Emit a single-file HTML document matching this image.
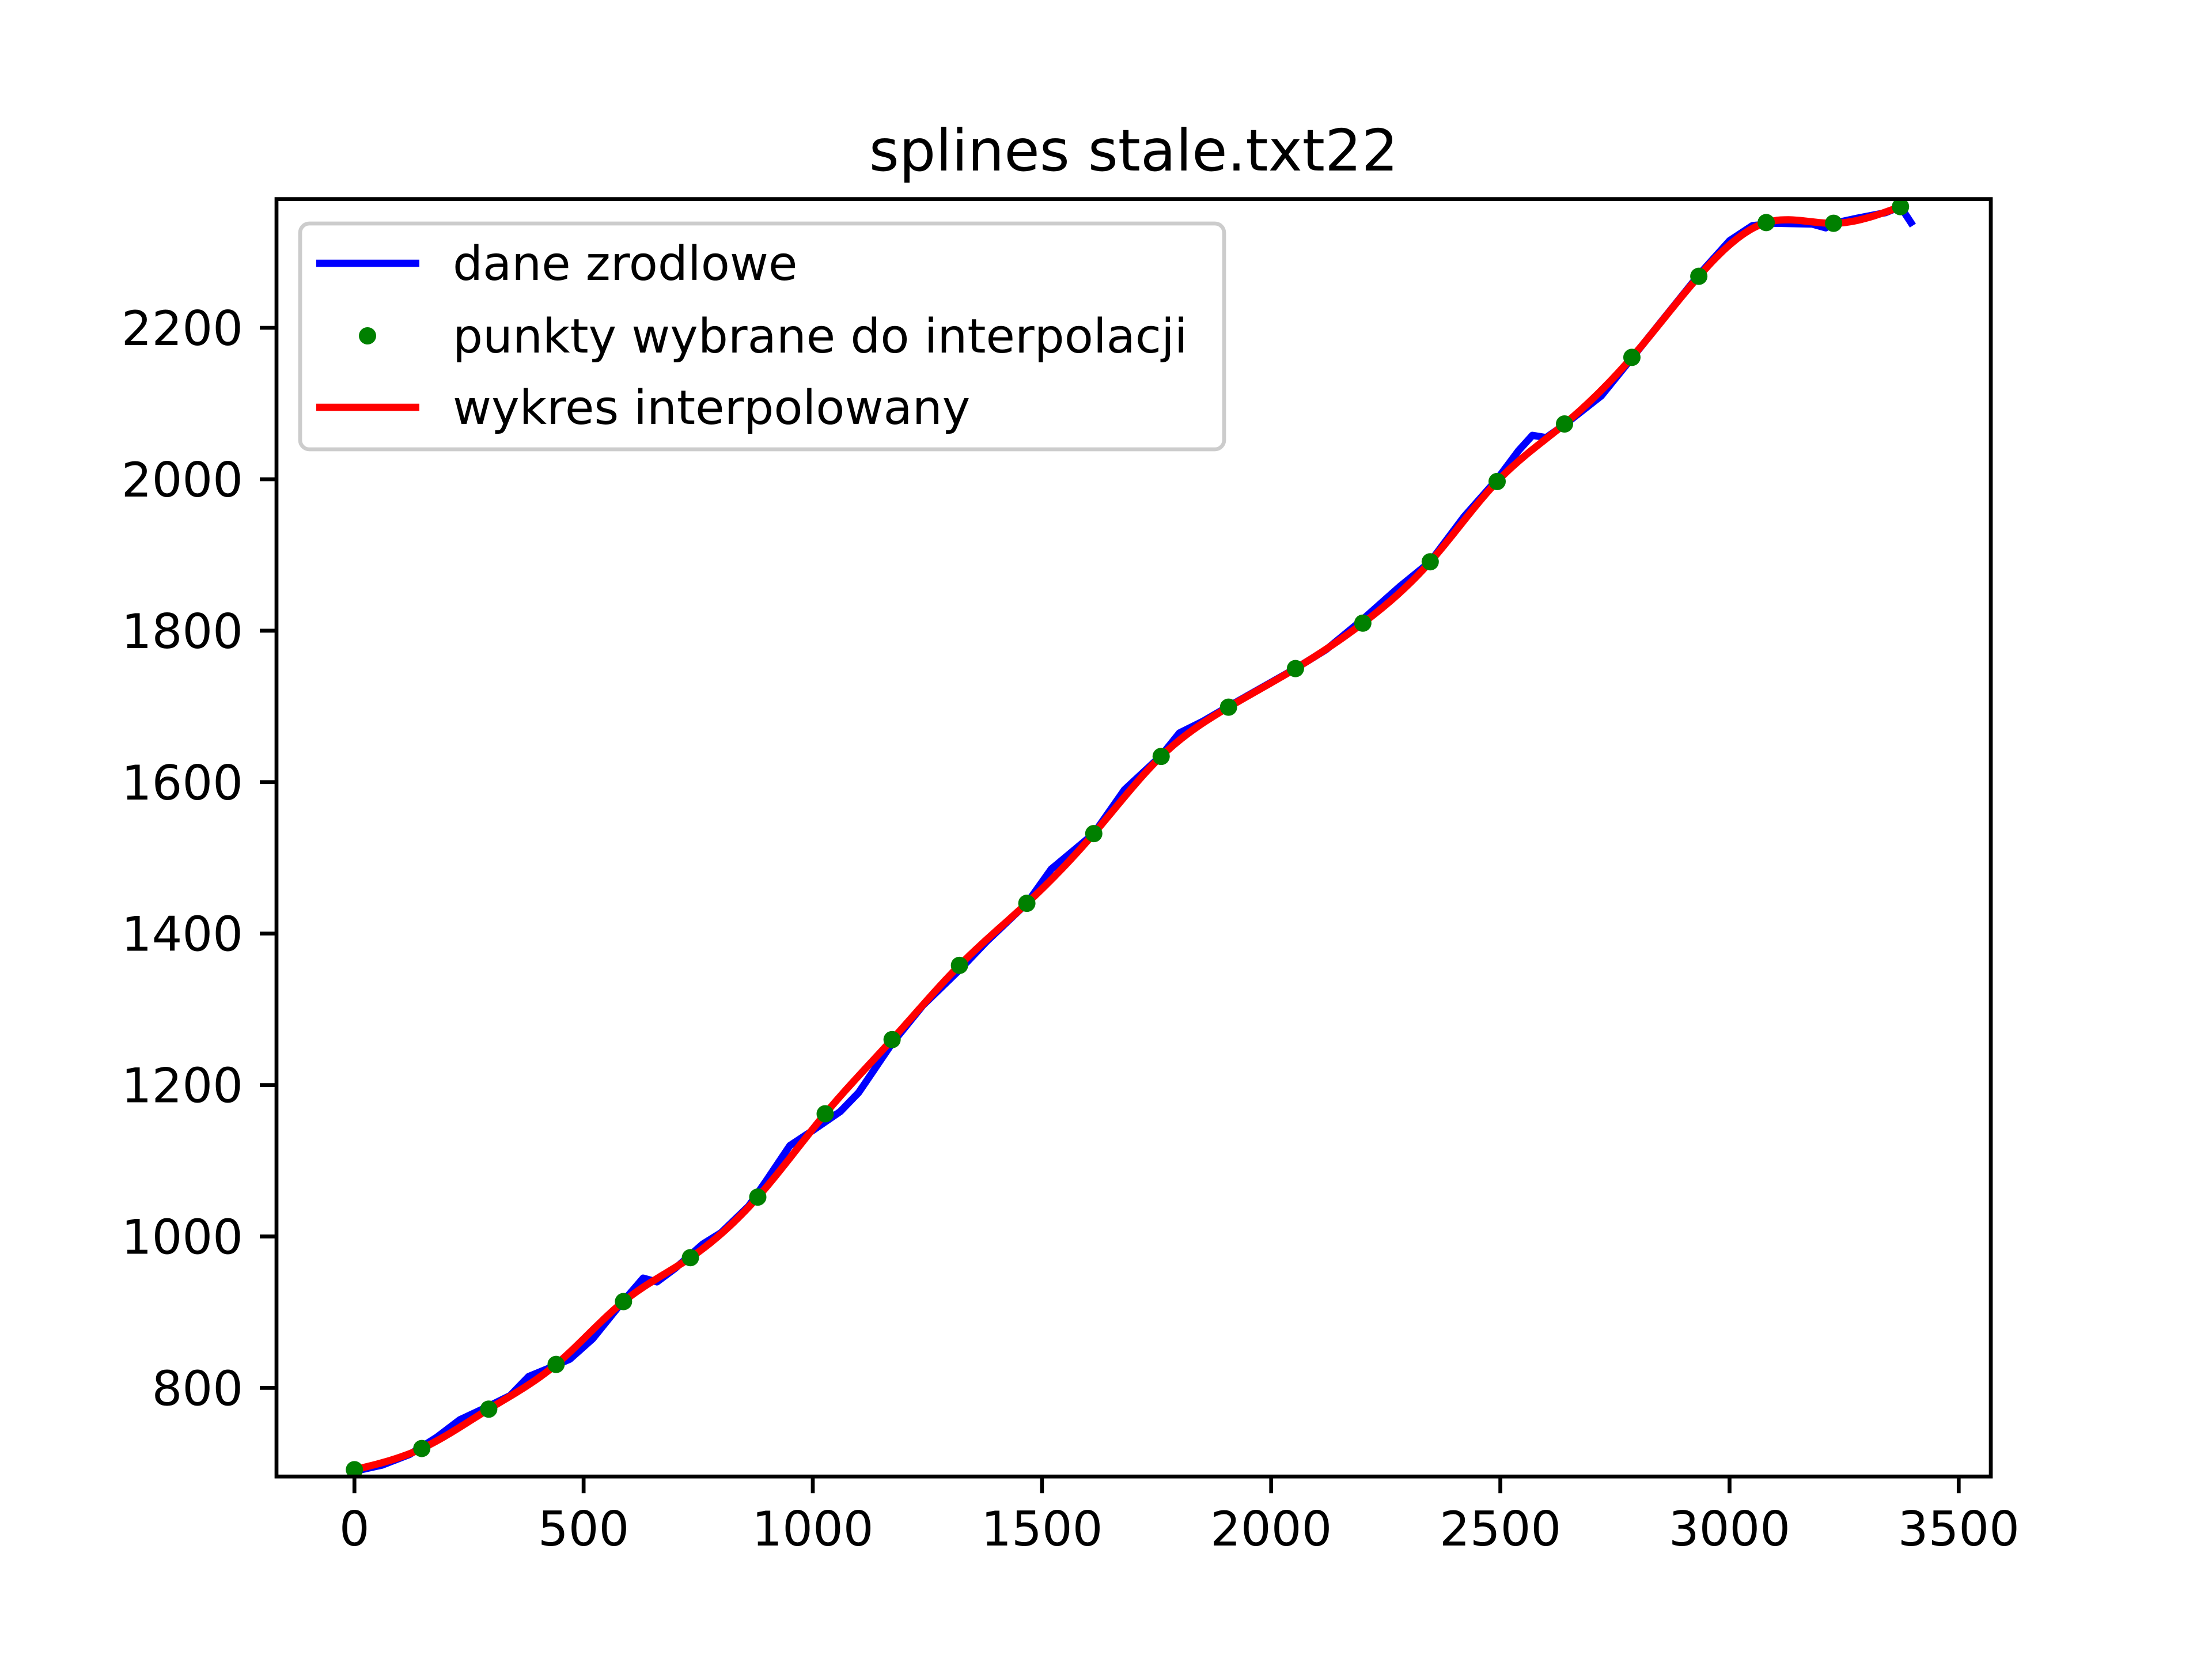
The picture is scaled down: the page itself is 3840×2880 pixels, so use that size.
<!DOCTYPE html>
<html><head><meta charset="utf-8"><style>
html,body{margin:0;padding:0;background:#fff}
svg{display:block}
text{font-family:"DejaVu Sans","Liberation Sans",sans-serif;fill:#000}
</style></head><body>
<svg id="chart" width="3840" height="2880" viewBox="0 0 3840 2880" xmlns="http://www.w3.org/2000/svg">
<rect width="3840" height="2880" fill="#fff"/>
<text x="1968" y="296" font-size="100" text-anchor="middle">splines stale.txt22</text>
<g id="plot"></g>
<g id="axes"></g>
<g>
<rect x="521" y="388" width="1604" height="392" rx="16" fill="#fff" fill-opacity="0.8" stroke="#cccccc" stroke-width="6.7"/>
<line x1="549" y1="457" x2="728" y2="457" stroke="#0000ff" stroke-width="12.5"/>
<text x="786" y="486" font-size="82">dane zrodlowe</text>
<circle cx="638" cy="583" r="15" fill="#008000"/>
<text x="786" y="612" font-size="82">punkty wybrane do interpolacji</text>
<line x1="549" y1="707" x2="728" y2="707" stroke="#ff0000" stroke-width="12.5"/>
<text x="786" y="736" font-size="82">wykres interpolowany</text>
</g>
</svg>
<script>
const nodeX=[0,147,293,440,587,733,880,1027,1173,1320,1467,1613,1760,1907,2053,2200,2347,2493,2640,2787,2933,3080,3227,3373];
const nodeY=[692,720,772,831,914,972,1052,1162,1260,1358,1440,1532,1634,1699,1750,1810,1891,1997,2073,2161,2268,2339,2338,2360];
const srcX=[0,60,120,180,230,290,340,380,420,470,520,580,630,660,700,760,800,860,900,950,1000,1060,1100,1173,1240,1320,1380,1467,1520,1613,1680,1760,1800,1850,1907,1980,2053,2120,2200,2280,2347,2420,2493,2540,2570,2600,2640,2720,2787,2860,2933,3000,3050,3100,3180,3210,3227,3280,3340,3373,3400];
const srcY=[690,698,712,735,758,775,790,815,825,838,865,910,945,940,958,990,1005,1040,1075,1120,1140,1165,1190,1255,1305,1352,1390,1440,1485,1532,1590,1635,1665,1680,1700,1725,1750,1775,1815,1858,1891,1950,2000,2038,2058,2055,2072,2110,2160,2215,2270,2315,2335,2338,2337,2332,2338,2345,2352,2360,2335];
const xTicks=[0,500,1000,1500,2000,2500,3000,3500];
const yTicks=[800,1000,1200,1400,1600,1800,2000,2200];
const L=480,R=3456,T=345.6,B=2563.2,X0=-170,X1=3570,Y0=683,Y1=2370;
const sx=v=>L+(v-X0)/(X1-X0)*(R-L), sy=v=>B-(v-Y0)/(Y1-Y0)*(B-T);
const NS="http://www.w3.org/2000/svg";
function mk(tag,attrs,parent){const e=document.createElementNS(NS,tag);for(const k in attrs)e.setAttribute(k,attrs[k]);parent.appendChild(e);return e;}
const plot=document.getElementById('plot'),axes=document.getElementById('axes');
const defs=mk('defs',{},plot);const cp=mk('clipPath',{id:'clip'},defs);mk('rect',{x:L,y:T,width:R-L,height:B-T},cp);
function spline(xs,ys){const n=xs.length,h=[],a=[],l=[1],mu=[0],z=[0],c=new Array(n).fill(0),b=[],d=[];
for(let i=0;i<n-1;i++)h[i]=xs[i+1]-xs[i];
for(let i=1;i<n-1;i++)a[i]=3/h[i]*(ys[i+1]-ys[i])-3/h[i-1]*(ys[i]-ys[i-1]);
for(let i=1;i<n-1;i++){l[i]=2*(xs[i+1]-xs[i-1])-h[i-1]*mu[i-1];mu[i]=h[i]/l[i];z[i]=(a[i]-h[i-1]*z[i-1])/l[i];}
l[n-1]=1;z[n-1]=0;
for(let j=n-2;j>=0;j--){c[j]=z[j]-mu[j]*c[j+1];b[j]=(ys[j+1]-ys[j])/h[j]-h[j]*(c[j+1]+2*c[j])/3;d[j]=(c[j+1]-c[j])/(3*h[j]);}
return x=>{let i=0;while(i<n-2&&x>xs[i+1])i++;const t=x-xs[i];return ys[i]+b[i]*t+c[i]*t*t+d[i]*t*t*t;};}
const g=mk('g',{'clip-path':'url(#clip)'},plot);
const bp=mk('polyline',{points:srcX.map((x,i)=>sx(x)+','+sy(srcY[i])).join(' '),fill:'none',stroke:'#0000ff','stroke-width':12.5,'stroke-linejoin':'round'},g);


const f=spline(nodeX,nodeY);const pts=[];const xe=nodeX[nodeX.length-1];
for(let k=0;k<=400;k++){const x=xe*k/400;pts.push(sx(x)+','+sy(f(x)));}
const rp=mk('polyline',{points:pts.join(' '),fill:'none',stroke:'#ff0000','stroke-width':12.5,'stroke-linejoin':'round'},g);


nodeX.forEach((x,i)=>{const c=mk('circle',{cx:sx(x),cy:sy(nodeY[i]),r:15,fill:'#008000'},g);

});
const fr=mk('rect',{x:L,y:T,width:R-L,height:B-T,fill:'none',stroke:'#000','stroke-width':6.7},axes);


xTicks.forEach(v=>{const x=sx(v);mk('line',{x1:x,y1:B,x2:x,y2:B+29,stroke:'#000','stroke-width':6.7},axes);
const t=mk('text',{x:x,y:B+29+29+62,'font-size':83,'text-anchor':'middle'},axes);t.textContent=v;

});
yTicks.forEach(v=>{const y=sy(v);mk('line',{x1:L-29,y1:y,x2:L,y2:y,stroke:'#000','stroke-width':6.7},axes);
const t=mk('text',{x:L-29-29,y:y+30,'font-size':83,'text-anchor':'end'},axes);t.textContent=v;

});
</script>
</body></html>
